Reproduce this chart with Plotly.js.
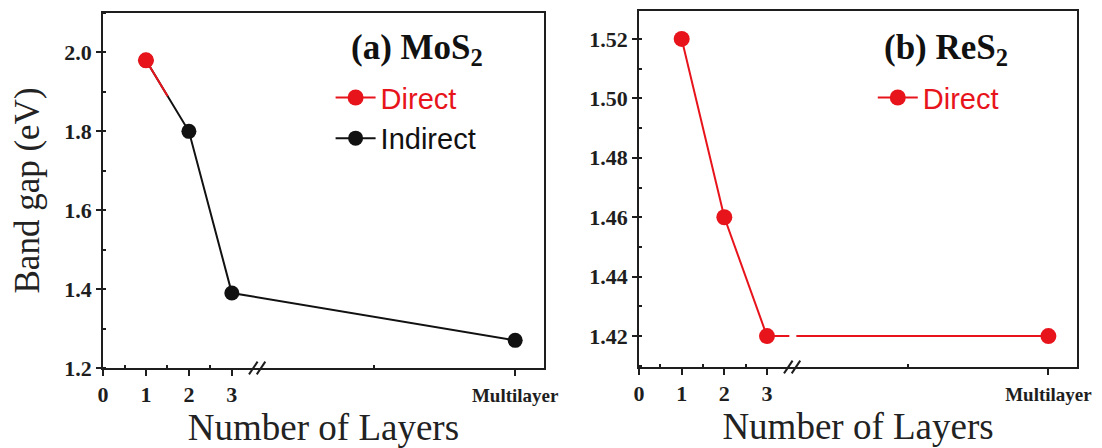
<!DOCTYPE html>
<html>
<head>
<meta charset="utf-8">
<script src="https://cdn.plot.ly/plotly-3.0.1.min.js"></script>
<style>
  html, body { margin: 0; padding: 0; background: #ffffff; }
  #chart { width: 1102px; height: 448px; }
</style>
</head>
<body>
<div id="chart"></div>
<script>
// ---- data ----
const layerPos = [1, 2, 3, 9.6];                 // x positions (Multilayer placed after the axis break)
const tickPos = [0, 1, 2, 3, 9.6];
const tickLabels = ['0', '1', '2', '3', '<span style="font-size:19px">Multilayer</span>'];
const mosGap = [1.98, 1.80, 1.39, 1.27];          // MoS2 band gap (eV)
const resGap = [1.52, 1.46, 1.42, 1.42];          // ReS2 band gap (eV)

const RED = '#e8141c';
const BLACK = '#111111';
const AXC = '#1e1e1e';
const SERIF = 'Liberation Serif, Times New Roman, serif';
const SANS = 'Liberation Sans, Arial, sans-serif';

const traces = [
  { // MoS2 indirect (black) drawn underneath
    x: layerPos, y: mosGap, xaxis: 'x', yaxis: 'y',
    mode: 'lines+markers', name: 'Indirect', legend: 'legend', legendrank: 2,
    line: { color: BLACK, width: 2 },
    marker: { color: BLACK, size: 15, opacity: 1 }
  },
  { // MoS2 direct (red) – monolayer point, red part of first segment
    x: layerPos.slice(0, 2), y: mosGap.slice(0, 2), xaxis: 'x', yaxis: 'y',
    mode: 'lines+markers', name: '<span style="color:' + RED + '">Direct</span>', legend: 'legend', legendrank: 1,
    line: { color: RED, width: 2, dash: '42px,2000px' },
    marker: { color: [RED, 'rgba(0,0,0,0)'], size: 16, opacity: 1 }
  },
  { // ReS2 direct
    x: layerPos, y: resGap, xaxis: 'x2', yaxis: 'y2',
    mode: 'lines+markers', name: '<span style="color:' + RED + '">Direct</span>', legend: 'legend2',
    line: { color: RED, width: 2, dash: '332px,7px,2000px' },
    marker: { color: RED, size: 16, opacity: 1 }
  }
];

function xAxis(domain, anchor) {
  return {
    domain: domain, anchor: anchor, range: [0, 10.27],
    tickmode: 'array', tickvals: tickPos, ticktext: tickLabels,
    ticks: 'outside', ticklen: 6, tickwidth: 2, tickcolor: AXC,
    tickfont: { family: SERIF, size: 22, color: AXC, weight: 'bold' },
    showline: true, linewidth: 2, linecolor: AXC, mirror: true,
    showgrid: false, zeroline: false,
    minor: { tickmode: 'array', tickvals: [0.5, 1.5, 2.5, 6.3], ticks: 'inside', ticklen: 3, tickwidth: 2, tickcolor: AXC },
    title: { text: 'Number of Layers', font: { family: SERIF, size: 37, color: '#222' }, standoff: 8 }
  };
}
function yAxis(domain, anchor, range, dtick, minorDtick, fmt, title) {
  const ax = {
    domain: domain, anchor: anchor, range: range,
    tickmode: 'linear', dtick: dtick, tick0: 0, tickformat: fmt,
    ticks: 'outside', ticklen: 5, tickwidth: 2, tickcolor: AXC,
    tickfont: { family: SERIF, size: 22, color: AXC, weight: 'bold' },
    showline: true, linewidth: 2, linecolor: AXC, mirror: true,
    showgrid: false, zeroline: false,
    minor: { dtick: minorDtick, ticks: 'inside', ticklen: 3, tickwidth: 2, tickcolor: AXC }
  };
  if (title) ax.title = { text: title, font: { family: SERIF, size: 35, color: '#222' }, standoff: 14 };
  return ax;
}

function breakMarks(xref, yref) {
  const s = [];
  [3.5, 3.68].forEach(function (cx) {
    s.push({ type: 'line', xref: xref, yref: yref, x0: cx - 0.1, x1: cx + 0.1, y0: -0.018, y1: 0.018,
             line: { color: AXC, width: 2 } });
  });
  return s;
}

const layout = {
  width: 1102, height: 448,
  margin: { l: 0, r: 0, t: 0, b: 0 },
  paper_bgcolor: '#ffffff', plot_bgcolor: '#ffffff',
  showlegend: true,
  xaxis: xAxis([0.0935, 0.4936], 'y'),
  yaxis: yAxis([0.1786, 0.9710], 'x', [1.2, 2.1], 0.2, 0.1, '.1f', 'Band gap (eV)'),
  xaxis2: xAxis([0.5799, 0.9773], 'y2'),
  yaxis2: yAxis([0.1808, 0.9755], 'x2', [1.4096, 1.5294], 0.02, 0.01, '.2f', null),
  legend: {
    x: 0.300, y: 0.839, xanchor: 'left', yanchor: 'top',
    bgcolor: 'rgba(0,0,0,0)', borderwidth: 0, itemwidth: 40,
    font: { family: SANS, size: 29, color: BLACK }, tracegroupgap: 0
  },
  legend2: {
    x: 0.792, y: 0.839, xanchor: 'left', yanchor: 'top',
    bgcolor: 'rgba(0,0,0,0)', borderwidth: 0, itemwidth: 40,
    font: { family: SANS, size: 29, color: RED }
  },
  annotations: [
    { xref: 'paper', yref: 'paper', x: 417 / 1102, y: 1 - 49 / 448, xanchor: 'center', yanchor: 'middle', showarrow: false,
      text: '<b>(a) MoS<sub>2</sub></b>', font: { family: SERIF, size: 35, color: '#111' } },
    { xref: 'paper', yref: 'paper', x: 946 / 1102, y: 1 - 49 / 448, xanchor: 'center', yanchor: 'middle', showarrow: false,
      text: '<b>(b) ReS<sub>2</sub></b>', font: { family: SERIF, size: 35, color: '#111' } }
  ],
  shapes: breakMarks('x', 'y domain').concat(breakMarks('x2', 'y2 domain'))
};

Plotly.newPlot('chart', traces, layout, { displayModeBar: false, staticPlot: true });
</script>
</body>
</html>
